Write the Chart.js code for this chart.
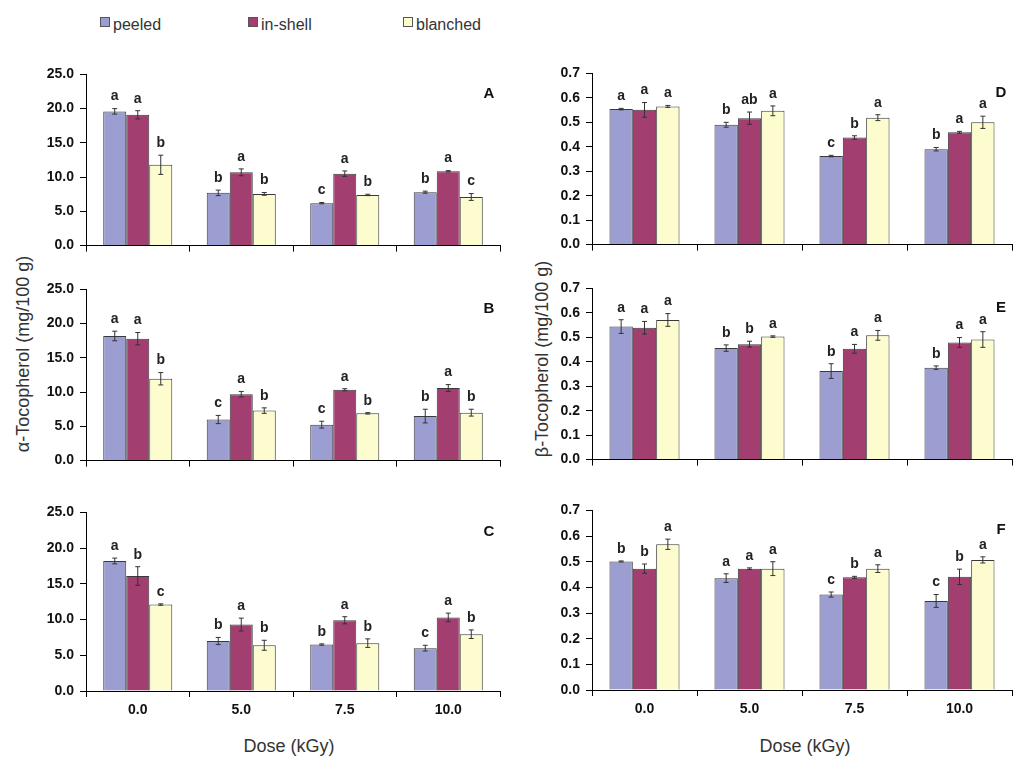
<!DOCTYPE html>
<html>
<head>
<meta charset="utf-8">
<script src="https://cdn.jsdelivr.net/npm/chart.js@4"></script>
<style>
  body { margin: 0; background: #fff; font-family: "Liberation Sans", Arial, sans-serif; }
  #page { position: relative; width: 1024px; height: 769px; overflow: hidden; }
  canvas { position: absolute; }
  .leg { position: absolute; font-size: 16px; color: #333; top: 16px; }
  .box { display: inline-block; width: 8px; height: 8px; border: 1px solid #555; margin-right: 3px; vertical-align: 3px; }
  .ytitle { position: absolute; font-size: 18px; color: #333; white-space: nowrap; transform: translate(-50%, -50%) rotate(-90deg); }
  .xtitle { position: absolute; font-size: 18px; color: #333; white-space: nowrap; transform: translate(-50%, -50%); }
</style>
</head>
<body>
<div id="page">
  <div class="leg" style="left:100px"><span class="box" style="background:#9c9dd1"></span>peeled</div>
  <div class="leg" style="left:248px"><span class="box" style="background:#a23f70"></span>in-shell</div>
  <div class="leg" style="left:403px"><span class="box" style="background:#fdfccf"></span>blanched</div>

  <div class="ytitle" style="left:23px; top:354px">α-Tocopherol (mg/100 g)</div>
  <div class="ytitle" style="left:542px; top:359px">β-Tocopherol (mg/100 g)</div>
  <div class="xtitle" style="left:289px; top:746px">Dose (kGy)</div>
  <div class="xtitle" style="left:805px; top:746px">Dose (kGy)</div>

  <canvas id="panelA" width="512" height="200" style="left:0; top:60px"></canvas>
  <canvas id="panelB" width="512" height="200" style="left:0; top:275px"></canvas>
  <canvas id="panelC" width="512" height="271" style="left:0; top:498px"></canvas>
  <canvas id="panelD" width="512" height="200" style="left:512px; top:59px"></canvas>
  <canvas id="panelE" width="512" height="200" style="left:512px; top:274px"></canvas>
  <canvas id="panelF" width="512" height="273" style="left:512px; top:496px"></canvas>
</div>

<script>
const doses = ['0.0', '5.0', '7.5', '10.0'];
const seriesNames = ['peeled', 'in-shell', 'blanched'];
const seriesColors = ['#9c9dd1', '#a23f70', '#fdfccf'];

const alphaTicks = [0, 5, 10, 15, 20, 25];
const betaTicks = [0, 0.1, 0.2, 0.3, 0.4, 0.5, 0.6, 0.7];

// rows = peeled, in-shell, blanched ; columns = doses
const valuesA = [[19.6, 7.7, 6.2, 7.8], [19.1, 10.7, 10.5, 10.85], [11.8, 7.55, 7.4, 7.1]];
const errorsA = [[0.4, 0.4, 0.1, 0.15], [0.6, 0.5, 0.4, 0.1], [1.4, 0.2, 0.1, 0.5]];
const lettersA = [['a', 'b', 'c', 'b'], ['a', 'a', 'a', 'a'], ['b', 'b', 'b', 'c']];

const valuesB = [[18.2, 6.0, 5.25, 6.5], [17.8, 9.7, 10.35, 10.6], [11.95, 7.3, 6.9, 7.0]];
const errorsB = [[0.7, 0.6, 0.5, 1.0], [0.9, 0.4, 0.15, 0.5], [0.9, 0.4, 0.1, 0.5]];
const lettersB = [['a', 'c', 'c', 'b'], ['a', 'a', 'a', 'a'], ['b', 'b', 'b', 'b']];

const valuesC = [[18.2, 7.0, 6.5, 6.0], [16.1, 9.3, 9.9, 10.3], [12.1, 6.4, 6.7, 7.95]];
const errorsC = [[0.4, 0.5, 0.1, 0.4], [1.3, 0.9, 0.5, 0.6], [0.1, 0.7, 0.6, 0.6]];
const lettersC = [['a', 'b', 'b', 'c'], ['b', 'a', 'a', 'a'], ['c', 'b', 'b', 'b']];

const valuesD = [[0.554, 0.49, 0.362, 0.39], [0.551, 0.517, 0.438, 0.459], [0.565, 0.547, 0.519, 0.5]];
const errorsD = [[0.003, 0.01, 0.003, 0.007], [0.03, 0.025, 0.007, 0.004], [0.004, 0.02, 0.012, 0.025]];
const lettersD = [['a', 'b', 'c', 'b'], ['a', 'ab', 'b', 'a'], ['a', 'a', 'a', 'a']];

const valuesE = [[0.544, 0.456, 0.362, 0.376], [0.539, 0.472, 0.453, 0.479], [0.571, 0.503, 0.508, 0.491]];
const errorsE = [[0.028, 0.013, 0.03, 0.007], [0.026, 0.012, 0.018, 0.02], [0.026, 0.003, 0.02, 0.032]];
const lettersE = [['a', 'b', 'b', 'b'], ['a', 'b', 'a', 'a'], ['a', 'a', 'a', 'a']];

const valuesF = [[0.501, 0.436, 0.372, 0.347], [0.473, 0.473, 0.439, 0.441], [0.568, 0.473, 0.473, 0.507]];
const errorsF = [[0.002, 0.017, 0.01, 0.025], [0.018, 0.003, 0.004, 0.03], [0.02, 0.027, 0.015, 0.012]];
const lettersF = [['b', 'a', 'c', 'c'], ['b', 'a', 'b', 'b'], ['a', 'a', 'a', 'a']];

const FONT = '"Liberation Sans", Arial, sans-serif';

// error bars, significance letters and the panel letter
const barExtras = {
    id: 'barExtras',
    afterDatasetsDraw(chart, args, opts) {
        const ctx = chart.ctx;
        const y = chart.scales.y;
        ctx.save();
        chart.data.datasets.forEach((ds, i) => {
            const meta = chart.getDatasetMeta(i);
            meta.data.forEach((bar, j) => {
                const v = ds.data[j], e = ds.errors[j];
                const top = y.getPixelForValue(v + e);
                const bot = y.getPixelForValue(v - e);
                ctx.strokeStyle = '#333';
                ctx.lineWidth = 1;
                ctx.beginPath();
                ctx.moveTo(bar.x, top); ctx.lineTo(bar.x, bot);
                ctx.moveTo(bar.x - 2.5, top); ctx.lineTo(bar.x + 2.5, top);
                ctx.moveTo(bar.x - 2.5, bot); ctx.lineTo(bar.x + 2.5, bot);
                ctx.stroke();
                ctx.fillStyle = '#222';
                ctx.font = 'bold 14px ' + FONT;
                ctx.textAlign = 'center';
                ctx.textBaseline = 'bottom';
                ctx.fillText(ds.letters[j], bar.x, top - 5);
            });
        });
        const area = chart.chartArea;
        ctx.font = 'bold 15px ' + FONT;
        ctx.fillStyle = '#111';
        ctx.textAlign = 'center';
        ctx.textBaseline = 'middle';
        ctx.fillText(opts.label, area.right - 11, area.top + 19);
        ctx.restore();
    }
};

function makePanel(id, values, errors, letters, label, opt) {
    const datasets = seriesNames.map((name, i) => ({
        label: name,
        data: values[i],
        errors: errors[i],
        letters: letters[i],
        backgroundColor: seriesColors[i],
        borderColor: '#3a3a3a',
        borderWidth: 1,
        categoryPercentage: 0.667,
        barPercentage: 1.0
    }));
    new Chart(document.getElementById(id), {
        type: 'bar',
        data: { labels: doses, datasets: datasets },
        plugins: [barExtras],
        options: {
            responsive: false,
            animation: false,
            layout: { padding: { top: 10, right: 12, left: 0, bottom: 0 } },
            plugins: {
                legend: { display: false },
                tooltip: { enabled: false },
                barExtras: { label: label }
            },
            scales: {
                x: {
                    grid: { offset: true, drawOnChartArea: false, drawTicks: true, tickLength: 6, color: '#000' },
                    border: { display: true, color: '#000', width: 1 },
                    ticks: {
                        display: opt.showX,
                        color: '#111',
                        padding: 5,
                        font: { family: FONT, size: 14, weight: 'bold' }
                    },
                    afterFit: s => { s.height = opt.xHeight; }
                },
                y: {
                    min: 0,
                    max: opt.max,
                    afterBuildTicks: s => { s.ticks = opt.ticks.map(v => ({ value: v })); },
                    grid: { drawOnChartArea: false, drawTicks: true, tickLength: 6, color: '#000' },
                    border: { display: true, color: '#000', width: 1 },
                    ticks: {
                        color: '#111',
                        padding: 6,
                        font: { family: FONT, size: 14, weight: 'bold' },
                        callback: v => Number(v).toFixed(1)
                    },
                    afterFit: s => { s.width = opt.yWidth; }
                }
            }
        }
    });
}

makePanel('panelA', valuesA, errorsA, lettersA, 'A', { max: 25, ticks: alphaTicks, yWidth: 86, xHeight: 8, showX: false });
makePanel('panelB', valuesB, errorsB, lettersB, 'B', { max: 25, ticks: alphaTicks, yWidth: 86, xHeight: 6, showX: false });
makePanel('panelC', valuesC, errorsC, lettersC, 'C', { max: 25, ticks: alphaTicks, yWidth: 86, xHeight: 78, showX: true });
makePanel('panelD', valuesD, errorsD, lettersD, 'D', { max: 0.7, ticks: betaTicks, yWidth: 80, xHeight: 8, showX: false });
makePanel('panelE', valuesE, errorsE, lettersE, 'E', { max: 0.7, ticks: betaTicks, yWidth: 80, xHeight: 7, showX: false });
makePanel('panelF', valuesF, errorsF, lettersF, 'F', { max: 0.7, ticks: betaTicks, yWidth: 80, xHeight: 79, showX: true });
</script>
</body>
</html>
